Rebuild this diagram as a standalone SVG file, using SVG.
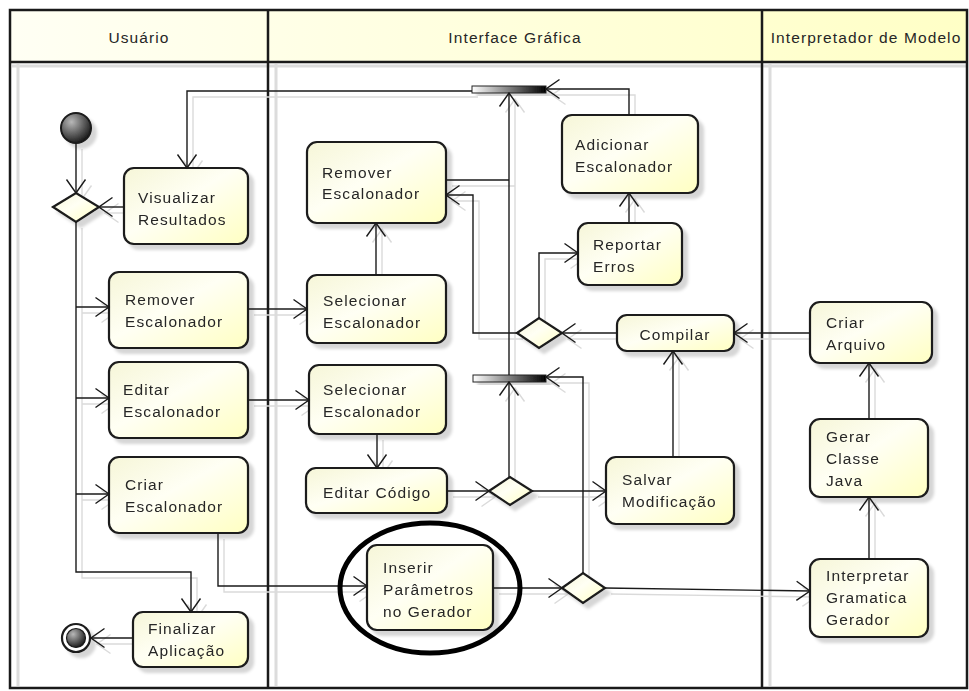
<svg xmlns="http://www.w3.org/2000/svg" xmlns:xlink="http://www.w3.org/1999/xlink" width="969" height="691" viewBox="0 0 969 691">
  <style>
    text { font-family: "Liberation Sans", Arial, sans-serif; font-size: 15.5px; letter-spacing: 1.1px; fill: #262626; }
    .hdr { text-anchor: middle; }
    .act { fill: url(#actFill); stroke: #1a1a1a; stroke-width: 2.2; }
    .dec { fill: url(#actFill); stroke: #1a1a1a; stroke-width: 2.2; }
    .bar { fill: url(#barFill); stroke: #222; stroke-width: 1; }
    .lane { stroke: #1a1a1a; stroke-width: 2.5; fill: none; }
    .laneShade { stroke: #dcdcdc; stroke-width: 3; fill: none; }
    .node { filter: url(#nodeShadow); }
    #connectors path { fill: none; stroke: #1a1a1a; stroke-width: 1.4; marker-end: url(#arrow); }
    #connectors path.plain { marker-end: none; }
  </style>
  <defs>
    <linearGradient id="actFill" x1="0" y1="0" x2="1" y2="1">
      <stop offset="0" stop-color="#f6f6d8"/>
      <stop offset="0.45" stop-color="#fffff4"/>
      <stop offset="1" stop-color="#ffffc2"/>
    </linearGradient>
    <linearGradient id="hdrFill" x1="0" y1="0" x2="1" y2="0">
      <stop offset="0" stop-color="#fffff4"/>
      <stop offset="1" stop-color="#ffffc6"/>
    </linearGradient>
    <linearGradient id="barFill" x1="0" y1="0" x2="1" y2="0">
      <stop offset="0" stop-color="#ffffff"/>
      <stop offset="1" stop-color="#000000"/>
    </linearGradient>
    <radialGradient id="ballFill" cx="0.35" cy="0.3" r="0.75">
      <stop offset="0" stop-color="#b8b8b8"/>
      <stop offset="1" stop-color="#151515"/>
    </radialGradient>
    <filter id="nodeShadow" x="-20%" y="-20%" width="150%" height="150%">
      <feGaussianBlur in="SourceAlpha" stdDeviation="1.5"/>
      <feOffset dx="5" dy="5" result="off"/>
      <feFlood flood-color="#000" flood-opacity="0.16"/>
      <feComposite in2="off" operator="in" result="sh"/>
      <feMerge><feMergeNode in="sh"/><feMergeNode in="SourceGraphic"/></feMerge>
    </filter>
    <filter id="lineShadow" x="0" y="0" width="110%" height="110%">
      <feOffset in="SourceAlpha" dx="6" dy="6" result="off"/>
      <feFlood flood-color="#dadada"/>
      <feComposite in2="off" operator="in"/>
    </filter>
    <marker id="arrow" viewBox="0 0 16 22" refX="14.5" refY="11" markerWidth="16" markerHeight="22" markerUnits="userSpaceOnUse" orient="auto">
      <path d="M1,1.5 L14.5,11 L1,20.5" fill="none" stroke="#1a1a1a" stroke-width="1.4"/>
    </marker>
  </defs>

  <rect width="969" height="691" fill="#fff"/>

  <!-- swimlane frame -->
  <g id="lanes">
    <rect x="10" y="10" width="957" height="52" fill="url(#hdrFill)"/>
    <path class="laneShade" d="M12 66 H967 M18 64 V686 M276 64 V686 M770 64 V686"/>
    <path class="lane" d="M10 10 H967 V688 H10 Z M10 62 H967 M268 10 V688 M762 10 V688"/>
    <text class="hdr" x="139" y="43">Usuário</text>
    <text class="hdr" x="515" y="43">Interface Gráfica</text>
    <text class="hdr" x="866" y="43">Interpretador de Modelo</text>
  </g>

  <!-- grey drop copy of every flow line -->
  <use xlink:href="#connectors" href="#connectors" filter="url(#lineShadow)"/>

  <!-- Usuário lane -->
  <g id="start" class="node"><circle cx="76" cy="128" r="15" fill="url(#ballFill)" stroke="#1a1a1a" stroke-width="2"/></g>
  <g id="decUser" class="node"><polygon class="dec" points="53,207 76,193 99,207 76,222"/></g>
  <g id="visualizar" class="node">
    <rect class="act" x="124" y="168" width="124" height="76" rx="10"/>
    <text x="138" y="203">Visualizar</text><text x="138" y="225">Resultados</text>
  </g>
  <g id="removerUser" class="node">
    <rect class="act" x="109" y="272" width="139" height="76" rx="10"/>
    <text x="125" y="305">Remover</text><text x="125" y="327">Escalonador</text>
  </g>
  <g id="editarUser" class="node">
    <rect class="act" x="109" y="362" width="139" height="76" rx="10"/>
    <text x="123" y="395">Editar</text><text x="123" y="417">Escalonador</text>
  </g>
  <g id="criarUser" class="node">
    <rect class="act" x="109" y="457" width="139" height="76" rx="10"/>
    <text x="125" y="490">Criar</text><text x="125" y="512">Escalonador</text>
  </g>
  <g id="finalizar" class="node">
    <rect class="act" x="133" y="612" width="115" height="55" rx="10"/>
    <text x="148" y="634">Finalizar</text><text x="148" y="656">Aplicação</text>
  </g>
  <g id="end" class="node">
    <circle cx="76" cy="638" r="14" fill="#fff" stroke="#1a1a1a" stroke-width="2.2"/>
    <circle cx="76" cy="638" r="9.5" fill="url(#ballFill)" stroke="#1a1a1a" stroke-width="1.2"/>
  </g>

  <!-- Interface Gráfica lane -->
  <g id="forkTop" class="node"><rect class="bar" x="472" y="86" width="74" height="7"/></g>
  <g id="forkLow" class="node"><rect class="bar" x="473" y="375" width="73" height="7"/></g>
  <g id="removerGui" class="node">
    <rect class="act" x="307" y="142" width="139" height="81" rx="10"/>
    <text x="322" y="178">Remover</text><text x="322" y="199">Escalonador</text>
  </g>
  <g id="selecionar1" class="node">
    <rect class="act" x="307" y="275" width="139" height="68" rx="10"/>
    <text x="323" y="306">Selecionar</text><text x="323" y="328">Escalonador</text>
  </g>
  <g id="selecionar2" class="node">
    <rect class="act" x="309" y="365" width="137" height="69" rx="10"/>
    <text x="323" y="395">Selecionar</text><text x="323" y="417">Escalonador</text>
  </g>
  <g id="editarCodigo" class="node">
    <rect class="act" x="306" y="468" width="141" height="45" rx="10"/>
    <text x="323" y="498">Editar Código</text>
  </g>
  <g id="inserir" class="node">
    <rect class="act" x="367" y="545" width="126" height="85" rx="10"/>
    <text x="383" y="573">Inserir</text><text x="383" y="595">Parâmetros</text><text x="383" y="617">no Gerador</text>
  </g>
  <g id="adicionar" class="node">
    <rect class="act" x="562" y="115" width="136" height="78" rx="10"/>
    <text x="575" y="150">Adicionar</text><text x="575" y="172">Escalonador</text>
  </g>
  <g id="reportar" class="node">
    <rect class="act" x="578" y="223" width="104" height="62" rx="10"/>
    <text x="593" y="250">Reportar</text><text x="593" y="272">Erros</text>
  </g>
  <g id="compilar" class="node">
    <rect class="act" x="617" y="315" width="117" height="36" rx="10"/>
    <text x="675" y="340" text-anchor="middle">Compilar</text>
  </g>
  <g id="salvar" class="node">
    <rect class="act" x="606" y="457" width="128" height="67" rx="10"/>
    <text x="622" y="485">Salvar</text><text x="622" y="507">Modificação</text>
  </g>
  <g id="decCompile" class="node"><polygon class="dec" points="517,333 539,318 562,333 539,348"/></g>
  <g id="decEdit" class="node"><polygon class="dec" points="489,491 510,477 532,491 510,505"/></g>
  <g id="decInsert" class="node"><polygon class="dec" points="562,588 583,573 605,588 583,603"/></g>

  <!-- Interpretador de Modelo lane -->
  <g id="criarArquivo" class="node">
    <rect class="act" x="810" y="302" width="122" height="61" rx="10"/>
    <text x="826" y="328">Criar</text><text x="826" y="350">Arquivo</text>
  </g>
  <g id="gerarClasse" class="node">
    <rect class="act" x="810" y="419" width="118" height="78" rx="10"/>
    <text x="826" y="442">Gerar</text><text x="826" y="464">Classe</text><text x="826" y="486">Java</text>
  </g>
  <g id="interpretar" class="node">
    <rect class="act" x="810" y="559" width="118" height="78" rx="10"/>
    <text x="826" y="581">Interpretar</text><text x="826" y="603">Gramatica</text><text x="826" y="625">Gerador</text>
  </g>

  <!-- control flows -->
  <g id="connectors">
    <path d="M76 143 V193"/>
    <path d="M124 207 H99"/>
    <path d="M76 222 V572 H191 V612"/>
    <path d="M76 307 H109"/>
    <path d="M76 398 H109"/>
    <path d="M76 494 H109"/>
    <path d="M472 91 H187 V168"/>
    <path d="M133 638 H91"/>
    <path d="M248 309 H307"/>
    <path d="M248 400 H309"/>
    <path d="M218 533 V586 H367"/>
    <path d="M376 275 V223"/>
    <path class="plain" d="M446 180 H509"/>
    <path d="M509 375 V93"/>
    <path d="M629 115 V89 H546"/>
    <path d="M629 223 V193"/>
    <path d="M539 318 V253 H578"/>
    <path d="M517 333 H473 V195 H446"/>
    <path d="M617 333 H562"/>
    <path d="M673 457 V351"/>
    <path d="M810 333 H734"/>
    <path d="M377 434 V468"/>
    <path d="M447 491 H489"/>
    <path d="M509 477 V382"/>
    <path d="M532 491 H606"/>
    <path d="M583 573 V377 H546"/>
    <path d="M493 588 H562"/>
    <path d="M605 588 L810 591"/>
    <path d="M869 559 V497"/>
    <path d="M869 419 V363"/>
  </g>

  <!-- highlight ring round the generator step -->
  <g id="highlight">
    <ellipse cx="430" cy="588" rx="90" ry="65" fill="none" stroke="#000" stroke-width="5"/>
  </g>
</svg>
